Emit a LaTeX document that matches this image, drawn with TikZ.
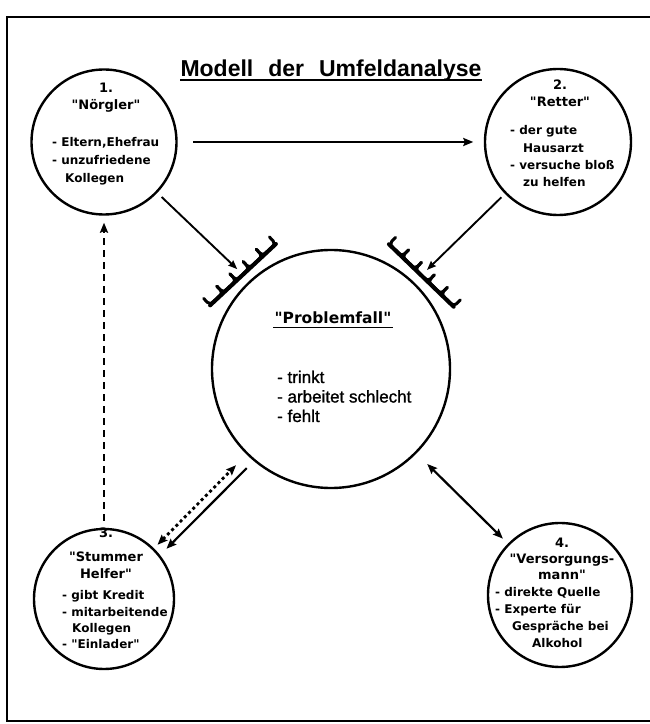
\documentclass[tikz,border=0pt]{standalone}
\usepackage{fontspec}
\newfontfamily\circfont{DejaVu Sans}
\newfontfamily\titlefont{Liberation Sans}
\newfontfamily\bodyfont{Liberation Sans}[FakeBold=1.2]
\usetikzlibrary{arrows.meta,calc}
\begin{document}
\begin{tikzpicture}[x=1pt,y=1pt,
  ring/.style={circle,draw,line width=2.4pt,inner sep=0pt},
  headtxt/.style={anchor=base,inner sep=0pt,
    font={\circfont\bfseries\fontsize{13}{17}\selectfont}},
  listtxt/.style={anchor=base west,inner sep=0pt,
    font={\circfont\bfseries\fontsize{12}{18}\selectfont}},
  tip/.style={-{Stealth[length=10pt,width=8pt,inset=1.5pt]}},
  bitip/.style={{Stealth[length=10pt,width=8pt,inset=1.5pt]}-{Stealth[length=10pt,width=8pt,inset=1.5pt]}},
  conn/.style={line width=2.2pt},
  thinconn/.style={line width=1.9pt,-{Stealth[length=9pt,width=7pt,inset=1pt]}},
  dashconn/.style={line width=2.3pt,dash pattern=on 7pt off 5pt},
  dotconn/.style={line width=2.8pt,dash pattern=on 3pt off 3pt},
  ulinestyle/.style={line width=1.9pt},
  combline/.style={line width=3pt,line cap=round,line join=round}
]
\useasboundingbox (0,0) rectangle (650,724);

% frame
\draw[line width=2.6pt] (650,707) -- (7,707) -- (7,3) -- (650,3);

% title
\node[anchor=base,inner sep=0pt,font={\titlefont\bfseries\fontsize{23}{26}\selectfont}]
  (title) at (331,647) {Modell\hspace{15pt}der\hspace{15pt}Umfeldanalyse};
\draw[ulinestyle] ($(title.base west)+(0,-3)$) -- ($(title.base east)+(0,-3)$);

% circles
\node[ring,minimum size=145pt] (n1) at (104,582) {};
\node[ring,minimum size=146pt] (n2) at (558,582) {};
\node[ring,minimum size=238pt] (P)  at (331,355) {};
\node[ring,minimum size=140pt] (n3) at (104,125) {};
\node[ring,minimum size=144pt] (n4) at (560,129) {};

% texts of circle 1
\node[headtxt] (h1) at (106,631) {\parbox[t]{140pt}{\centering 1.\\"Nörgler"}};
\node[listtxt] (l1) at (52,577) {\parbox[t]{140pt}{\raggedright
  - Eltern,Ehefrau\\- unzufriedene\\\hspace*{13pt}Kollegen}};

% texts of circle 2
\node[headtxt] (h2) at (560,634) {\parbox[t]{140pt}{\centering 2.\\"Retter"}};
\node[listtxt,font={\circfont\bfseries\fontsize{12}{17.3}\selectfont}] (l2) at (510,589)
  {\parbox[t]{140pt}{\raggedright
  - der gute\\\hspace*{13pt}Hausarzt\\- versuche bloß\\\hspace*{13pt}zu helfen}};

% texts of circle 3
\node[headtxt,font={\circfont\bfseries\fontsize{13}{16.5}\selectfont}] (h3) at (106,186)
  {\parbox[t]{140pt}{\centering 3.\\[7.5pt]"Stummer\\Helfer"}};
\node[listtxt,font={\circfont\bfseries\fontsize{12}{16.3}\selectfont}] (l3) at (62,124)
  {\parbox[t]{140pt}{\raggedright
  - gibt Kredit\\- mitarbeitende\\\hspace*{10pt}Kollegen\\- "Einlader"}};

% texts of circle 4
\node[headtxt,font={\circfont\bfseries\fontsize{13}{16}\selectfont}] (h4) at (562,176)
  {\parbox[t]{140pt}{\centering 4.\\"Versorgungs-\\mann"}};
\node[listtxt,font={\circfont\bfseries\fontsize{12}{16.7}\selectfont}] (l4) at (495,127)
  {\parbox[t]{140pt}{\raggedright
  - direkte Quelle\\- Experte für\\\hspace*{17pt}Gespräche bei\\\hspace*{37pt}Alkohol}};

% texts of the central circle
\node[anchor=base,inner sep=0pt,font={\circfont\bfseries\fontsize{15.5}{18}\selectfont}]
  (pt) at (333,400) {"Problemfall"};
\draw[ulinestyle] ($(pt.base west)+(-1,-3.5)$) -- ($(pt.base east)+(1,-3.5)$);
\node[anchor=base west,inner sep=0pt,font={\bodyfont\fontsize{17}{19.5}\selectfont}]
  (pl) at (277,341) {\parbox[t]{160pt}{\raggedright
  - trinkt\\- arbeitet schlecht\\- fehlt}};

% blocking combs in front of the central circle
\coordinate (cL) at ($(P.center)+(133:129)$);
\coordinate (cR) at ($(P.center)+(46:130)$);
\foreach \c/\r in {cL/43,cR/-44}{
  \begin{scope}[shift={(\c)},rotate=\r]
    \draw[line width=4pt,line cap=round] (-45,0) -- (45,0);
    \foreach \x in {-45,-27,-9,9,27}{
      \draw[combline] (\x,9.5) -- (\x,4) .. controls (\x,1) and (\x+2,0.5) .. (\x+6,0.5)
        -- (\x+12,0.5) .. controls (\x+16,0.5) and (\x+18,1) .. (\x+18,4) -- (\x+18,9.5);
    }
  \end{scope}
}

% connectors
\draw[conn,tip,shorten <=15.5pt,shorten >=10.5pt] (n1.east) -- (n2.west);
\draw[thinconn,shorten <=6pt,shorten >=8pt] (n1) -- (cL);
\draw[thinconn,shorten <=5pt,shorten >=8pt] (n2) -- (cR);
\draw[dashconn,tip,shorten <=7pt,shorten >=7pt] (n3.north) -- (n1.south);
\draw[dotconn,bitip,shorten <=5pt,shorten >=15pt] (n3) -- (P);
\draw[conn,tip,shorten <=10pt,shorten >=9pt] (P.230) -- (n3.38);
\draw[conn,bitip,shorten <=15pt,shorten >=7pt] (P) -- (n4);
\end{tikzpicture}
\end{document}
